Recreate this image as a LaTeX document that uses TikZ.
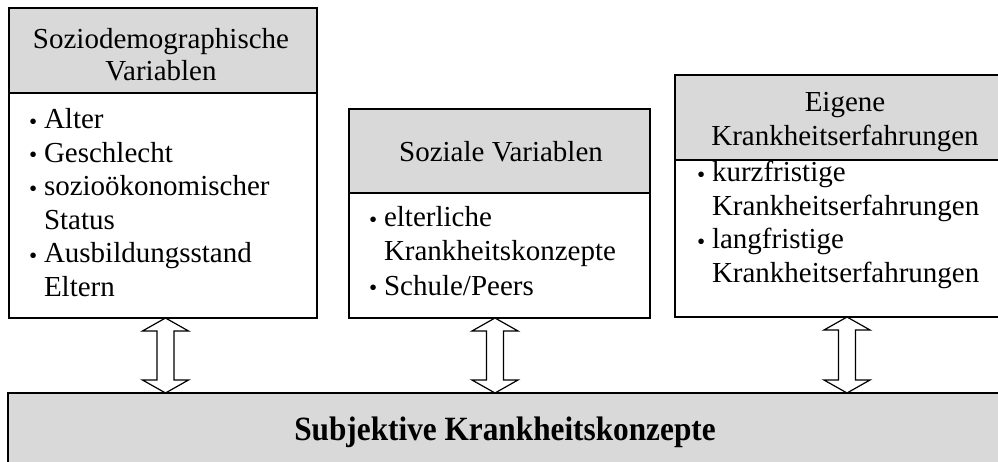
\documentclass[tikz,border=0pt]{standalone}
\usepackage{fontspec}
\setmainfont{Liberation Serif}
\usetikzlibrary{calc}
\definecolor{hdrgray}{HTML}{D9D9D9}
\tikzset{
  frame/.style={draw=black, line width=1.5pt, inner sep=0pt, outer sep=0pt, anchor=north west},
  hdr/.style={frame, fill=hdrgray},
  bodybox/.style={frame, fill=white},
  txt/.style={inner sep=0pt, outer sep=0pt, font=\fontsize{29}{33.5}\selectfont},
  ltxt/.style={txt, anchor=base west},
  ctxt/.style={txt, anchor=base},
  boldtxt/.style={inner sep=0pt, outer sep=0pt, anchor=base, font=\fontsize{34}{40}\selectfont\bfseries},
  dblarrow/.style={draw=black, line width=1.2pt, fill=white, line join=miter},
}
\newcommand\itemdot{\makebox[15pt][l]{\raisebox{-0.5pt}{\scalebox{0.8}{•}}}}
\begin{document}
\begin{tikzpicture}[x=1pt, y=-1pt]
  \useasboundingbox (0,0) rectangle (998,462);
  \clip (0,0) rectangle (998,462);

  % sociodemographic variables
  \node[hdr, minimum width=308pt, minimum height=85pt] (sdh) at (9,8) {};
  \node[bodybox, minimum width=308pt, minimum height=225pt] (sdb) at (sdh.south west) {};
  \node[ctxt] (sdt1) at (161,49) {Soziodemographische};
  \node[ctxt] (sdt2) at (161,81) {Variablen};
  \node[ltxt] (sdl1) at (29,129) {\itemdot Alter};
  \node[ltxt] (sdl2) at (29,162.5) {\itemdot Geschlecht};
  \node[ltxt] (sdl3) at (29,196) {\itemdot sozioökonomischer};
  \node[ltxt] (sdl4) at (44,229.5) {Status};
  \node[ltxt] (sdl5) at (29,263) {\itemdot Ausbildungsstand};
  \node[ltxt] (sdl6) at (44,296.5) {Eltern};

  % social variables
  \node[hdr, minimum width=301pt, minimum height=84pt] (svh) at (349,109) {};
  \node[bodybox, minimum width=301pt, minimum height=125pt] (svb) at (svh.south west) {};
  \node[ctxt] (svt1) at (501,162) {Soziale Variablen};
  \node[ltxt] (svl1) at (369,227) {\itemdot elterliche};
  \node[ltxt] (svl2) at (384,261) {Krankheitskonzepte};
  \node[ltxt] (svl3) at (369,295) {\itemdot Schule/Peers};

  % own illness experience
  \node[hdr, minimum width=344pt, minimum height=85pt] (ekh) at (675,75) {};
  \node[bodybox, minimum width=344pt, minimum height=157pt] (ekb) at (ekh.south west) {};
  \node[ctxt] (ekt1) at (845,112) {Eigene};
  \node[ctxt] (ekt2) at (845,145.5) {Krankheitserfahrungen};
  \node[ltxt] (ekl1) at (697,182) {\itemdot kurzfristige};
  \node[ltxt] (ekl2) at (712,215.5) {Krankheitserfahrungen};
  \node[ltxt] (ekl3) at (697,249) {\itemdot langfristige};
  \node[ltxt] (ekl4) at (712,282.5) {Krankheitserfahrungen};

  % subjective illness concepts
  \node[hdr, minimum width=996pt, minimum height=90pt] (main) at (8,393) {};
  \node[boldtxt] (maint) at (505,440) {\scalebox{0.92}[1]{Subjektive Krankheitskonzepte}};

  % hollow double arrows
  \foreach \bx/\dx in {sdb/2.5, svb/-4.5, ekb/0} {
    \coordinate (atop) at ($(\bx.south)+(\dx,0)$);
    \coordinate (abot) at (atop |- main.north);
    \draw[dblarrow] (atop) -- ++(23,13) -- ++(-14.5,0) -- ($(abot)+(8.5,-13)$)
      -- ++(14.5,0) -- (abot) -- ++(-23,-13) -- ++(14.5,0)
      -- ($(atop)+(-8.5,13)$) -- ++(-14.5,0) -- cycle;
  }
\end{tikzpicture}
\end{document}
